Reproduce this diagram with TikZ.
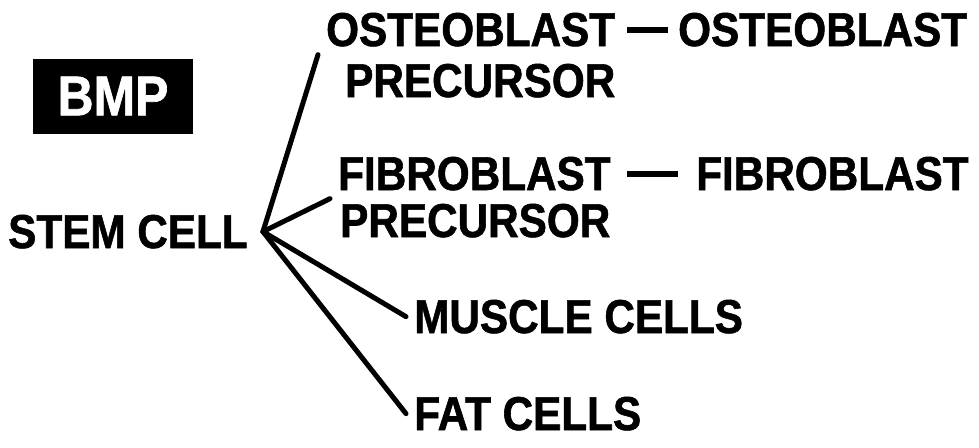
\documentclass[tikz,border=0pt]{standalone}
\usepackage{fontspec}
\newfontfamily\cellfont{Liberation Sans}[FakeStretch=0.89,BoldFeatures={FakeBold=1.2}]
\usepackage{tikz}
\tikzset{
  celltext/.style={anchor=base west,inner sep=8pt,
    font=\cellfont\bfseries\fontsize{47.5}{48}\selectfont},
  bmpbox/.style={rectangle,fill=black,text=white,minimum width=160pt,
    minimum height=75pt,inner sep=0pt,
    font=\cellfont\bfseries\fontsize{56}{56}\selectfont},
  branch/.style={line width=5pt,line cap=round,color=black},
  bond/.style={line width=6pt,color=black},
}
\begin{document}
\begin{tikzpicture}[x=1pt,y=-1pt]
  \useasboundingbox (0,0) rectangle (979,447);
  \node[bmpbox] (bmp) at (113,96) {BMP};
  \node[celltext] (stem) at (0,248) {STEM CELL};
  \coordinate (hub) at ([xshift=7pt]stem.east);
  % precursors, then the cells they give
  \node[celltext] (ostpre)  at (318,46)  {OSTEOBLAST};
  \node[celltext] (ostpreb) at (337,97)  {PRECURSOR};
  \node[celltext] (ostmat)  at (670,46)  {OSTEOBLAST};
  \node[celltext] (fibpre)  at (330,190) {FIBROBLAST};
  \node[celltext] (fibpreb) at (332,237) {PRECURSOR};
  \node[celltext] (fibmat)  at (688,190) {FIBROBLAST};
  \node[celltext] (muscle)  at (406,333) {MUSCLE CELLS};
  \node[celltext] (fat)     at (406,430) {FAT CELLS};
  \draw[branch] (hub) -- (ostpre.south west);
  \draw[branch] (hub) -- (fibpre.south west);
  \draw[branch] (hub) -- (muscle.west);
  \draw[branch] (hub) -- (fat.west);
  \draw[bond,shorten <=4pt,shorten >=2pt] (ostpre) -- (ostmat);
  \draw[bond,shorten <=8pt,shorten >=10pt] (fibpre) -- (fibmat);
\end{tikzpicture}
\end{document}
